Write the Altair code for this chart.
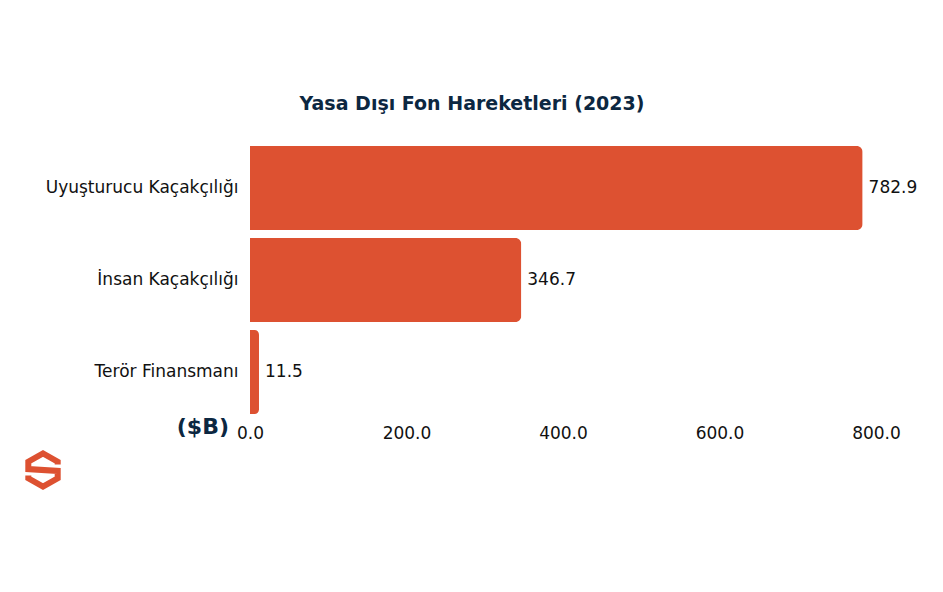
import altair as alt
import pandas as pd

categories = ["Uyuşturucu Kaçakçılığı", "İnsan Kaçakçılığı", "Terör Finansmanı"]
values = [782.9, 346.7, 11.5]
tick_values = [0, 200, 400, 600, 800]

df = pd.DataFrame({"cat": categories, "val": values})
FONT = "DejaVu Sans"
BAR = "#DD5131"
NAVY = "#0C2741"

x = alt.X("val:Q", scale=alt.Scale(domain=[0, 800], nice=False),
          axis=alt.Axis(values=tick_values, format=".1f", title=None, grid=False,
                        domain=False, ticks=False, labelPadding=7, labelFontSize=17,
                        labelColor="#111", labelFont=FONT, labelFlush=False))
y = alt.Y("cat:N", sort=categories,
          scale=alt.Scale(paddingInner=0.087, paddingOuter=0.0435),
          axis=alt.Axis(title=None, domain=False, ticks=False, labelPadding=12,
                        labelFontSize=17, labelColor="#111", labelFont=FONT,
                        labelLimit=400))

bars = alt.Chart(df).mark_bar(color=BAR, cornerRadiusEnd=6).encode(x=x, y=y)
labels = alt.Chart(df).mark_text(align="left", baseline="middle", dx=6, fontSize=17,
                                 font=FONT, color="#111").encode(
    x="val:Q", y=alt.Y("cat:N", sort=categories), text=alt.Text("val:Q", format=".1f"))

unit = alt.Chart(pd.DataFrame({"t": ["($B)"]})).mark_text(
    align="right", baseline="middle", fontSize=22, fontWeight="bold", font=FONT,
    color=NAVY).encode(x=alt.value(-21), y=alt.value(285), text="t:N")

logo_path = ("M0.8,-0.3 L0.8,-0.45 L0,-0.9 L-0.8,-0.45 L-0.8,-0.05 L0.8,0.05 "
             "L0.8,0.45 L0,0.9 L-0.8,0.45 L-0.8,0.3")
logo = alt.Chart(pd.DataFrame({"k": [1]})).mark_point(
    shape=logo_path, filled=False, stroke=BAR, strokeWidth=6, size=1350,
    strokeJoin="miter", opacity=1).encode(x=alt.value(-207), y=alt.value(328))

chart = alt.layer(bars, labels, unit, logo).properties(
    width=626, height=276,
    title=alt.TitleParams("Yasa Dışı Fon Hareketleri (2023)", anchor="middle", dx=-91,
                          fontSize=19, fontWeight="bold", font=FONT, color=NAVY, offset=28),
    autosize=alt.AutoSizeParams(type="none"),
    padding={"left": 250, "top": 142, "right": 67, "bottom": 174},
    background="white",
).configure_view(stroke=None, strokeWidth=0)

chart.save("out.html", embed_options={"renderer": "svg", "actions": False})
